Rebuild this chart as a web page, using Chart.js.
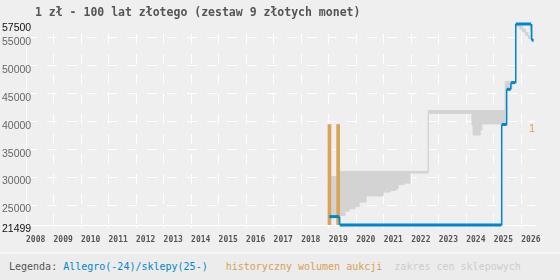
<!DOCTYPE html>
<html>
<head>
<meta charset="utf-8">
<script src="https://cdn.jsdelivr.net/npm/chart.js@4"></script>
<style>
  body { margin: 0; background: #efefef; }
  #wrap { position: relative; width: 560px; height: 252px; background: #efefef; }
  #title { position: absolute; left: 35px; top: 5px; line-height: 14px; font: bold 11.5px "DejaVu Sans Mono", monospace; color: #555; white-space: pre; }
  #legend { width: 560px; height: 28px; border-top: 2px solid #f7f7f7; background: #ececec; box-sizing: border-box;
            font: 10px "DejaVu Sans Mono", monospace; line-height: 26px; padding-left: 9px; white-space: pre; color: #555; }
</style>
</head>
<body>
<div id="wrap">
  <canvas id="price_canvas" width="560" height="252"></canvas>
  <div id="title">1 zł - 100 lat złotego (zestaw 9 złotych monet)</div>
</div>
<div id="legend">Legenda: <span style="color:#0086cd">Allegro(-24)/sklepy(25-)</span>   <span style="color:#d6a253">historyczny wolumen aukcji</span>  <span style="color:#cdcdcd">zakres cen sklepowych</span></div>
<script>
const years = [2008, 2009, 2010, 2011, 2012, 2013, 2014, 2015, 2016, 2017, 2018, 2019, 2020, 2021, 2022, 2023, 2024, 2025, 2026];
const price_ticks = [21499, 25000, 30000, 35000, 40000, 45000, 50000, 55000, 57500];
const volume_ticks = [1];

// Allegro / shop price
const price_dates  = [2019.02, 2019.38, 2019.40, 2025.27, 2025.29, 2025.46, 2025.47, 2025.62, 2025.63, 2025.78, 2025.80, 2026.36, 2026.38, 2026.45];
const price_values = [23000,   23000,   21499,   21499,   39500,   39500,   45800,   45800,   47000,   47000,   57500,   57500,   54600,   54600];

// shop price range (upper / lower edge)
const range_hi_dates  = [2019.09, 2019.38, 2022.62, 2025.42, 2025.80, 2025.95, 2026.05, 2026.15, 2026.25, 2026.35];
const range_hi_values = [30200,   31100,   42000,   47200,   57500,   57100,   56600,   56000,   55400,   55000];
const range_lo_dates  = [2019.09, 2019.38, 2019.60, 2019.75, 2019.96, 2020.11, 2020.36, 2020.98, 2021.24, 2021.45, 2021.53, 2021.75, 2021.96, 2022.62, 2024.21, 2024.25, 2024.51, 2024.57, 2025.42, 2025.66, 2025.80, 2025.95, 2026.05, 2026.15, 2026.25, 2026.35];
const range_lo_values = [23300,   23200,   24000,   24400,   24800,   25600,   26700,   27400,   27700,   28000,   28700,   29000,   30800,   41500,   39400,   37600,   38500,   39600,   45800,   47000,   57000,   56600,   56100,   55500,   54900,   54600];

// auction volume
const volume_dates  = [2019.03, 2019.345];
const volume_values = [1, 1];

const blue = '#0086cd';
const orange = '#d8a458';
const gray = '#d3d3d3';

function zip(xs, ys) {
    return xs.map((x, i) => ({x: x, y: ys[i]}));
}

const data = {
    datasets: [
        {
            label: 'Allegro(-24)/sklepy(25-)',
            data: zip(price_dates, price_values),
            borderColor: blue,
            borderWidth: 3,
            pointRadius: 0,
            order: 1,
            clip: 4,
            segment: {
                borderWidth: ctx => ctx.p0.parsed.y === ctx.p1.parsed.y ? 3 : 1.5
            }
        },
        {
            type: 'bar',
            label: 'historyczny wolumen aukcji',
            data: zip(volume_dates, volume_values),
            yAxisID: 'y2',
            backgroundColor: orange,
            barThickness: 3,
            order: 2
        },
        {
            label: 'zakres cen sklepowych',
            data: zip(range_hi_dates, range_hi_values),
            stepped: 'before',
            borderColor: gray,
            backgroundColor: gray,
            borderWidth: 1,
            pointRadius: 0,
            fill: '+1',
            order: 3
        },
        {
            label: 'zakres dolny',
            data: zip(range_lo_dates, range_lo_values),
            stepped: 'before',
            borderColor: gray,
            borderWidth: 1,
            pointRadius: 0,
            fill: false,
            order: 4
        }
    ]
};

const config = {
    type: 'line',
    data: data,
    options: {
        responsive: false,
        animation: false,
        events: [],
        layout: {padding: {left: 2, right: 25, top: 24, bottom: 0}},
        plugins: {
            legend: {display: false},
            title: {display: false},
            tooltip: {enabled: false}
        },
        scales: {
            x: {
                type: 'linear',
                offset: false,
                min: 2008,
                max: 2026.5,
                afterBuildTicks: scale => { scale.ticks = years.map(v => ({value: v})); },
                afterFit: scale => { scale.height = 27; },
                ticks: {
                    align: 'start',
                    autoSkip: false,
                    maxRotation: 0,
                    padding: 7,
                    color: '#555',
                    font: {family: 'DejaVu Sans Mono', size: 8, weight: 'bold'},
                    callback: v => String(v)
                },
                grid: {offset: false, color: '#ffffff', lineWidth: 1, tickLength: 3, tickColor: '#ffffff'},
                border: {color: '#ffffff', width: 1, dash: [10, 10], dashOffset: 10}
            },
            y: {
                type: 'linear',
                min: 21499,
                max: 57500,
                afterBuildTicks: scale => { scale.ticks = price_ticks.map(v => ({value: v})); },
                afterFit: scale => { scale.width = 24; },
                ticks: {
                    mirror: true,
                    autoSkip: false,
                    padding: -24,
                    labelOffset: 4,
                    font: {family: 'Liberation Sans', size: 10.5},
                    color: ctx => (ctx.tick.value === 21499 || ctx.tick.value === 57500) ? '#111' : '#666',
                    callback: v => String(v)
                },
                grid: {
                    drawTicks: false,
                    color: ctx => (ctx.tick && (ctx.tick.value === 21499 || ctx.tick.value === 57500)) ? 'rgba(0,0,0,0)' : '#ffffff'
                },
                border: {color: '#ffffff', width: 1, dash: [10, 10]}
            },
            y2: {
                type: 'linear',
                position: 'right',
                min: 0,
                max: 2,
                afterBuildTicks: scale => { scale.ticks = volume_ticks.map(v => ({value: v})); },
                afterFit: scale => { scale.width = 0; },
                ticks: {
                    mirror: true,
                    padding: 0,
                    labelOffset: 4,
                    color: orange,
                    font: {family: 'Liberation Sans', size: 11},
                    callback: v => String(v)
                },
                grid: {display: false},
                border: {display: false}
            }
        }
    }
};

const price_chart = new Chart(document.getElementById('price_canvas'), config);
</script>
</body>
</html>
